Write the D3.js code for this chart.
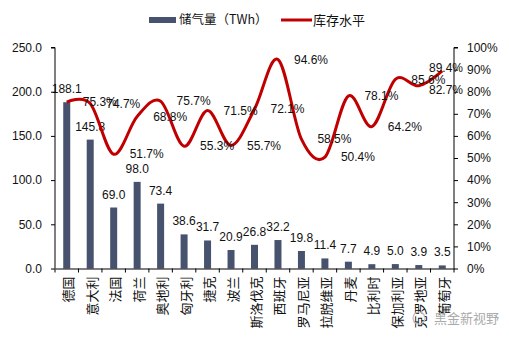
<!DOCTYPE html>
<html><head><meta charset="utf-8">
<script src="https://cdn.jsdelivr.net/npm/d3@7"></script>
<style>body{margin:0;background:#fff}svg{display:block;font-family:"Liberation Sans",Arial,"Noto Sans CJK SC",sans-serif}</style>
</head><body><svg id="c" width="509" height="339"></svg>
<script>
const categories = ["德国","意大利","法国","荷兰","奥地利","匈牙利","捷克","波兰","斯洛伐克","西班牙","罗马尼亚","拉脱维亚","丹麦","比利时","保加利亚","克罗地亚","葡萄牙"];
const storage = [188.1,145.8,69.0,98.0,73.4,38.6,31.7,20.9,26.8,32.2,19.8,11.4,7.7,4.9,5.0,3.9,3.5];
const level = [75.3,74.7,51.7,68.8,75.7,55.3,71.5,55.7,72.1,94.6,58.5,50.4,78.1,64.2,85.6,82.7,89.4];
const leftTicks = [0,50,100,150,200,250];
const rightTicks = [0,10,20,30,40,50,60,70,80,90,100];
const seriesNames = ["储气量（TWh）","库存水平"];

const svg = d3.select("#c");
const L = 55, R = 454, T = 47.5, B = 268.5;
const barColor = "#47536e", lineColor = "#c00000";

const x = d3.scaleBand().domain(categories).range([L, R]).padding(0);
const yL = d3.scaleLinear().domain([0,250]).range([B, T]);
const yR = d3.scaleLinear().domain([0,100]).range([B, T]);

// bars
const bw = 7;
svg.append("g").selectAll("rect").data(storage).join("rect")
  .attr("x", (d,i) => x(categories[i]) + x.bandwidth()/2 - bw/2)
  .attr("y", d => yL(d))
  .attr("width", bw)
  .attr("height", d => B - yL(d))
  .attr("fill", barColor);

// bar labels
svg.append("g").selectAll("text").data(storage).join("text")
  .attr("x", (d,i) => x(categories[i]) + x.bandwidth()/2)
  .attr("y", d => yL(d) - 9)
  .attr("text-anchor","middle")
  .attr("font-size", 12).attr("fill","#111")
  .text(d => d.toFixed(1));

// line
const line = d3.line()
  .x((d,i) => x(categories[i]) + x.bandwidth()/2)
  .y(d => yR(d))
  .curve(d3.curveCardinal.tension(0));
svg.append("path").datum(level).attr("d", line)
  .attr("fill","none").attr("stroke", lineColor).attr("stroke-width", 3);

// line labels: right of point, clamped to plot, simple vertical de-overlap
const labs = level.map((d,i) => ({d, x: Math.min(x(categories[i]) + x.bandwidth()/2 + 16, 429), y: yR(d)}));
for (let it = 0; it < 20; it++) {
  for (let a = 0; a < labs.length; a++) for (let b = a+1; b < labs.length; b++) {
    const A = labs[a], Bb = labs[b];
    if (33 - Math.abs(A.x - Bb.x) > 20) {
      const dy = Bb.y - A.y, need = 22;
      if (Math.abs(dy) < need) {
        const s = dy >= 0 ? 1 : -1, m = (need - Math.abs(dy)) / 2;
        A.y -= s*m; Bb.y += s*m;
      }
    }
  }
}
svg.append("g").selectAll("text").data(labs).join("text")
  .attr("x", d => d.x)
  .attr("y", d => d.y)
  .attr("dy","0.35em")
  .attr("font-size", 12).attr("fill","#111")
  .text(d => d.d.toFixed(1) + "%");

// left axis
const gL = svg.append("g").attr("transform", `translate(${L},0)`)
  .call(d3.axisLeft(yL).tickValues(leftTicks).tickFormat(d => d.toFixed(1)).tickSize(4).tickPadding(9));
// right axis
const gR = svg.append("g").attr("transform", `translate(${R},0)`)
  .call(d3.axisRight(yR).tickValues(rightTicks).tickFormat(d => d + "%").tickSize(4).tickPadding(9));
// bottom axis
const gB = svg.append("g").attr("transform", `translate(0,${B})`)
  .call(d3.axisBottom(x).tickSize(0).tickFormat(""));
[gL,gR,gB].forEach(g => {
  g.select(".domain").attr("stroke","#000").attr("stroke-width",1);
  g.selectAll(".tick line").attr("stroke","#000");
  g.selectAll("text").attr("font-size",12).attr("fill","#111").attr("font-family","Liberation Sans, Arial, sans-serif");
});
gL.select(".domain").attr("d", `M-4,${T}H0V${B}`);
gR.select(".domain").attr("d", `M4,${T}H0V${B}`);
// category boundary ticks
const bounds = categories.map(c => x(c)).concat([R]);
gB.append("g").selectAll("line").data(bounds).join("line")
  .attr("x1", d => d).attr("x2", d => d).attr("y1", 0).attr("y2", 4).attr("stroke","#000");

// category labels (rotated)
svg.append("g").selectAll("text").data(categories).join("text")
  .attr("transform", d => `translate(${x(d) + x.bandwidth()/2 + 1},${B + 8}) rotate(-90)`)
  .attr("text-anchor","end").attr("dominant-baseline","central")
  .attr("font-size", 13).attr("fill","#111")
  .attr("font-family","Noto Sans CJK SC, sans-serif")
  .text(d => d);

// legend
const lg = svg.append("g");
lg.append("rect").attr("x",149).attr("y",17).attr("width",27).attr("height",6).attr("fill",barColor);
lg.append("text").attr("x",179).attr("y",20).attr("dy","0.35em").attr("font-size",12.5).attr("fill","#111")
  .attr("font-family","Noto Sans CJK SC, sans-serif").text(seriesNames[0]);
lg.append("line").attr("x1",281).attr("x2",312).attr("y1",20).attr("y2",20).attr("stroke",lineColor).attr("stroke-width",3);
lg.append("text").attr("x",313).attr("y",20).attr("dy","0.35em").attr("font-size",13).attr("fill","#111")
  .attr("font-family","Noto Sans CJK SC, sans-serif").text(seriesNames[1]);

// watermark
svg.append("circle").attr("cx",419).attr("cy",318).attr("r",6).attr("fill","none").attr("stroke","#bbb").attr("stroke-width",1.2);
svg.append("text").attr("x",434).attr("y",318).attr("dy","0.35em").attr("font-size",13).attr("fill","#aaa")
  .attr("font-family","Noto Sans CJK SC, sans-serif").text("黑金新视野");
</script></body></html>
